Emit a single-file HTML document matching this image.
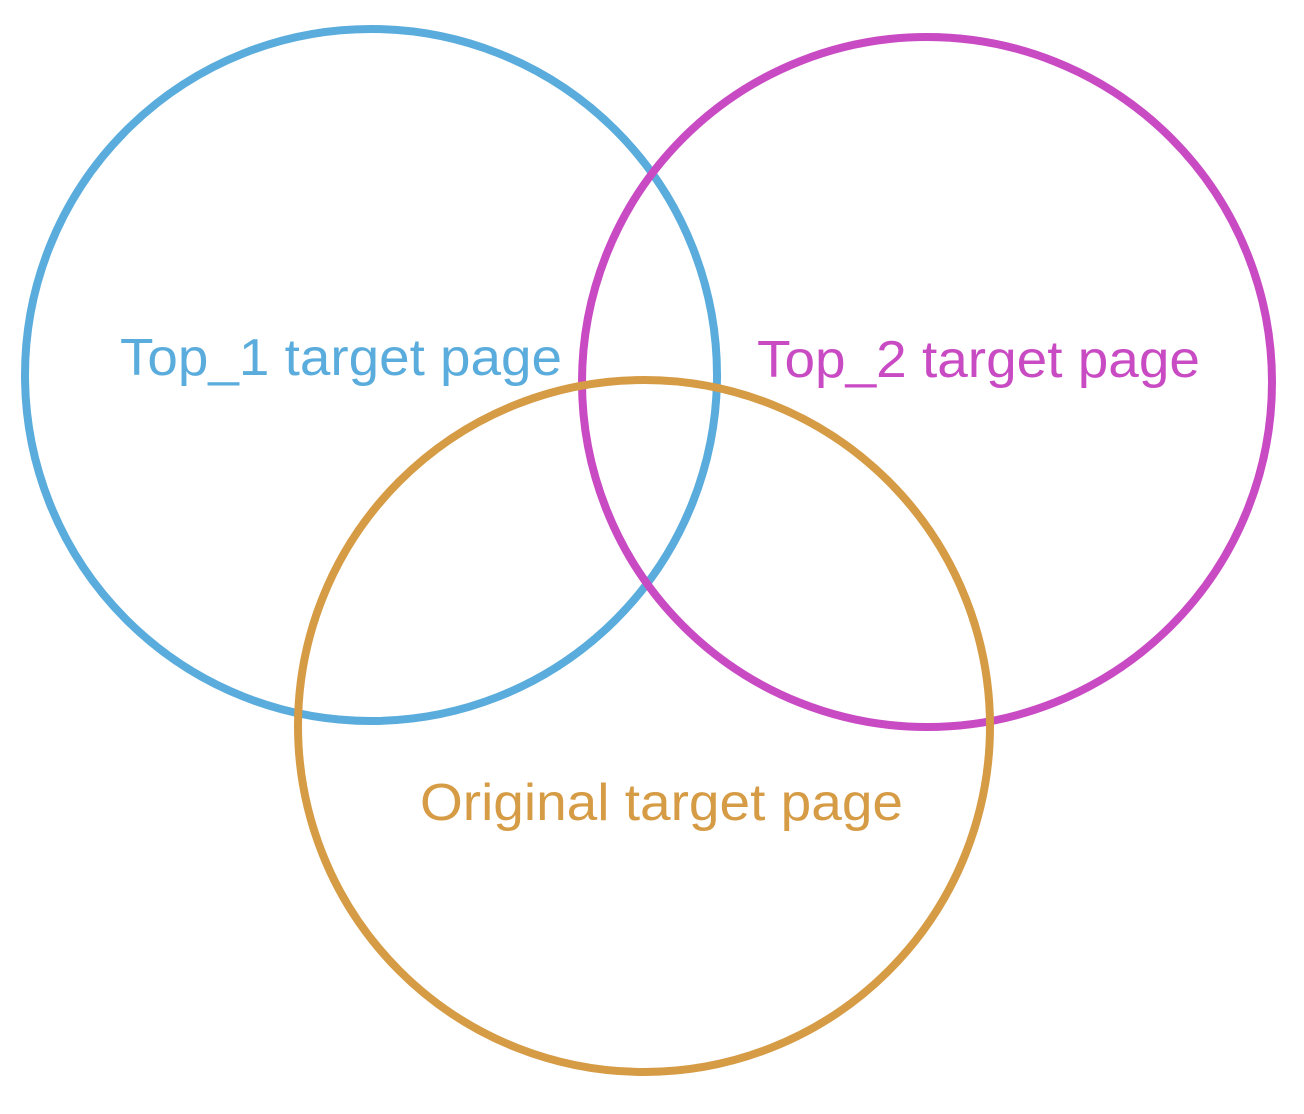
<!DOCTYPE html>
<html><head><meta charset="utf-8"><style>html,body{margin:0;padding:0;background:#fff}svg{display:block}</style></head>
<body>
<svg width="1304" height="1114" viewBox="0 0 1304 1114" xmlns="http://www.w3.org/2000/svg">
<g fill="none" stroke-width="8">
<circle cx="371" cy="375" r="346" stroke="#5aacdc"/>
<circle cx="927" cy="382" r="345" stroke="#c94bc4"/>
<circle cx="644" cy="726" r="346" stroke="#d69b45"/>
</g>
<g font-family="Liberation Sans, sans-serif" font-size="52">
<text x="120" y="375" fill="#5aacdc" textLength="442" lengthAdjust="spacingAndGlyphs">Top_1 target page</text>
<text x="757" y="377" fill="#c94bc4" textLength="443" lengthAdjust="spacingAndGlyphs">Top_2 target page</text>
<text x="420" y="820" fill="#d69b45" textLength="483" lengthAdjust="spacingAndGlyphs">Original target page</text>
</g>
</svg>
</body></html>
